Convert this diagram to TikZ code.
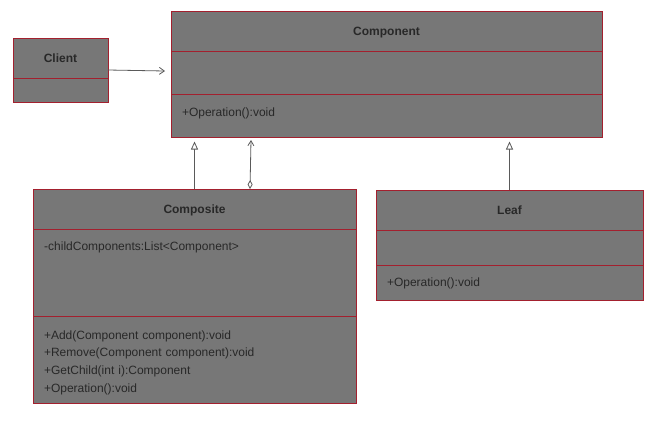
\documentclass[tikz,border=0pt]{standalone}
\usepackage{fontspec}
\setmainfont{Liberation Sans}
\usetikzlibrary{positioning,arrows.meta}
\definecolor{boxfill}{HTML}{777777}
\definecolor{boxline}{HTML}{A3202E}
\definecolor{inktext}{HTML}{282828}
\definecolor{wire}{HTML}{5A5A5A}
\begin{document}
\begin{tikzpicture}[
  x=1pt, y=-1pt,
  every node/.style={font=\fontsize{12}{17.7}\selectfont, text=inktext},
  part/.style={draw=boxline, fill=boxfill, line width=1pt, anchor=north west, inner sep=0pt, outer sep=0pt},
  title/.style={part, font=\fontsize{12}{14}\selectfont\bfseries, minimum height=40, text height=8.6pt, text depth=0pt},
  members/.style={part, inner xsep=11pt, align=left},
  link/.style={draw=wire, line width=0.8pt},
  uses/.style={link, -{Straight Barb[length=5pt, width=7pt]}},
  inherits/.style={link, -{Triangle[open, fill=white, length=8pt, width=7pt]}},
  holds/.style={link, {Diamond[open, fill=white, length=9pt, width=5pt]}-{Straight Barb[length=5pt, width=6pt]}}
]
\useasboundingbox (0,0) rectangle (668,421);

% Client
\node[title, minimum width=95] (clientT) at (13,38) {Client};
\node[part, minimum width=95, minimum height=24, below=0pt of clientT] (clientA) {};

% Component
\node[title, minimum width=431] (componentT) at (171,11) {Component};
\node[part, minimum width=431, minimum height=43, below=0pt of componentT] (componentA) {};
\node[members, text width=409, minimum height=43, text height=8.6pt, text depth=7pt, below=0pt of componentA] (componentO) {+Operation():void};

% Composite
\node[title, minimum width=323] (compositeT) at (33,189) {Composite};
\node[part, minimum width=323, minimum height=87, below=0pt of compositeT] (compositeA) {};
\node[anchor=base west, inner sep=0pt] (compositeF) at ([xshift=11pt, yshift=-21.3pt]compositeA.north west) {-childComponents:List<Component>};
\node[members, text width=301, minimum height=87, below=0pt of compositeA] (compositeO) {\rule{0pt}{15pt}+Add(Component component):void\\
  +Remove(Component component):void\\
  +GetChild(int i):Component\\
  +Operation():void};

% Leaf
\node[title, minimum width=267] (leafT) at (376,190) {Leaf};
\node[part, minimum width=267, minimum height=35, below=0pt of leafT] (leafA) {};
\node[members, text width=245, minimum height=35, text height=8.6pt, text depth=0pt, below=0pt of leafA] (leafO) {+Operation():void};

% connectors
\coordinate (clientEnd) at ([xshift=-6pt, yshift=1.5pt]componentA.west);
\draw[uses] ([yshift=8pt]clientT.south east) -- (clientEnd);
\coordinate (compositeUp) at ([yshift=-4.5pt]compositeT.north |- componentO.south);
\draw[inherits] (compositeT.north) -- (compositeUp);
\coordinate (leafUp) at ([yshift=-4.5pt]leafT.north |- componentO.south);
\draw[inherits] (leafT.north) -- (leafUp);
\coordinate (holdFoot) at ([xshift=55.5pt]compositeT.north);
\coordinate (holdTop) at ([xshift=1pt, yshift=-3pt]holdFoot |- componentO.south);
\draw[holds] (holdFoot) -- (holdTop);
\end{tikzpicture}
\end{document}
